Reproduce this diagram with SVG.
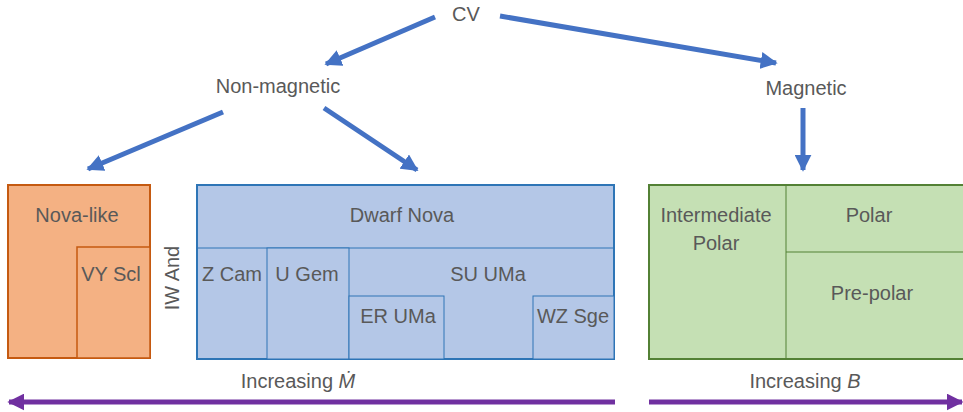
<svg xmlns="http://www.w3.org/2000/svg" width="963" height="412" viewBox="0 0 963 412">
<style>
text{font-family:"Liberation Sans",Arial,sans-serif;font-size:20px;fill:#595959;text-anchor:middle}
.blue{stroke:#4472C4;stroke-width:5;fill:none}
.purple{stroke:#7030A0;stroke-width:5;fill:none}
.or{fill:#F4B183;stroke:#C55A11}
.bl{fill:#B4C7E7;stroke:#2E75B6}
.gr{fill:#C5E0B4;stroke:#538135}
</style>
<defs>
<marker id="ab" viewBox="0 0 10 10" refX="9" refY="5" markerWidth="3.4" markerHeight="3.4" orient="auto" markerUnits="strokeWidth">
<path d="M0,0 L10,5 L0,10 Z" fill="#4472C4"/>
</marker>
<marker id="ap" viewBox="0 0 10 10" refX="9" refY="5" markerWidth="3.4" markerHeight="3.4" orient="auto" markerUnits="strokeWidth">
<path d="M0,0 L10,5 L0,10 Z" fill="#7030A0"/>
</marker>
</defs>
<rect width="963" height="412" fill="#ffffff"/>
<g id="connectors">
<line class="blue" x1="435" y1="17" x2="326" y2="64" marker-end="url(#ab)"/>
<line class="blue" x1="500" y1="16" x2="776" y2="63" marker-end="url(#ab)"/>
<line class="blue" x1="223" y1="112" x2="88" y2="169" marker-end="url(#ab)"/>
<line class="blue" x1="324" y1="108" x2="417" y2="170" marker-end="url(#ab)"/>
<line class="blue" x1="803" y1="108" x2="803" y2="170" marker-end="url(#ab)"/>
<line class="purple" x1="615" y1="402" x2="9" y2="402" marker-end="url(#ap)"/>
<line class="purple" x1="649" y1="402" x2="962" y2="402" marker-end="url(#ap)"/>
</g>
<g id="cv"><text x="466" y="21">CV</text></g>
<g id="nonmagnetic"><text x="278" y="93">Non-magnetic</text></g>
<g id="magnetic"><text x="806" y="95">Magnetic</text></g>
<g id="novalike">
<rect class="or" x="8" y="185" width="142" height="173" stroke-width="2"/>
<text x="77" y="222">Nova-like</text>
</g>
<g id="vyscl">
<rect class="or" x="77" y="247" width="73" height="111" stroke-width="1.5"/>
<text x="111" y="281">VY Scl</text>
</g>
<g id="iwand"><text transform="translate(179,278) rotate(-90)">IW And</text></g>
<g id="dwarfnova">
<rect class="bl" x="197" y="185" width="417" height="174" stroke-width="2"/>
<line x1="197" y1="248" x2="614" y2="248" stroke="#2E75B6" stroke-width="1"/>
<text x="402" y="222">Dwarf Nova</text>
</g>
<g id="zcam">
<text x="232" y="281">Z Cam</text>
</g>
<g id="ugem">
<rect class="bl" x="267" y="248" width="82" height="111" stroke-width="1"/>
<text x="307" y="281">U Gem</text>
</g>
<g id="suuma">
<text x="488" y="281">SU UMa</text>
</g>
<g id="eruma">
<rect class="bl" x="349" y="296" width="95" height="63" stroke-width="1"/>
<text x="398" y="323">ER UMa</text>
</g>
<g id="wzsge">
<rect class="bl" x="533" y="296" width="81" height="63" stroke-width="1"/>
<text x="573" y="323">WZ Sge</text>
</g>
<g id="intermediatepolar">
<rect class="gr" x="649" y="185" width="320" height="174" stroke-width="2"/>
<line x1="786" y1="185" x2="786" y2="359" stroke="#538135" stroke-width="1"/>
<text x="716" y="222">Intermediate</text>
<text x="716" y="250">Polar</text>
</g>
<g id="polar">
<line x1="786" y1="252" x2="969" y2="252" stroke="#538135" stroke-width="1"/>
<text x="869" y="222">Polar</text>
</g>
<g id="prepolar"><text x="872" y="300">Pre-polar</text></g>
<g id="labels">
<text x="298" y="388">Increasing <tspan font-style="italic">Ṁ</tspan></text>
<text x="805" y="388">Increasing <tspan font-style="italic">B</tspan></text>
</g>
</svg>
